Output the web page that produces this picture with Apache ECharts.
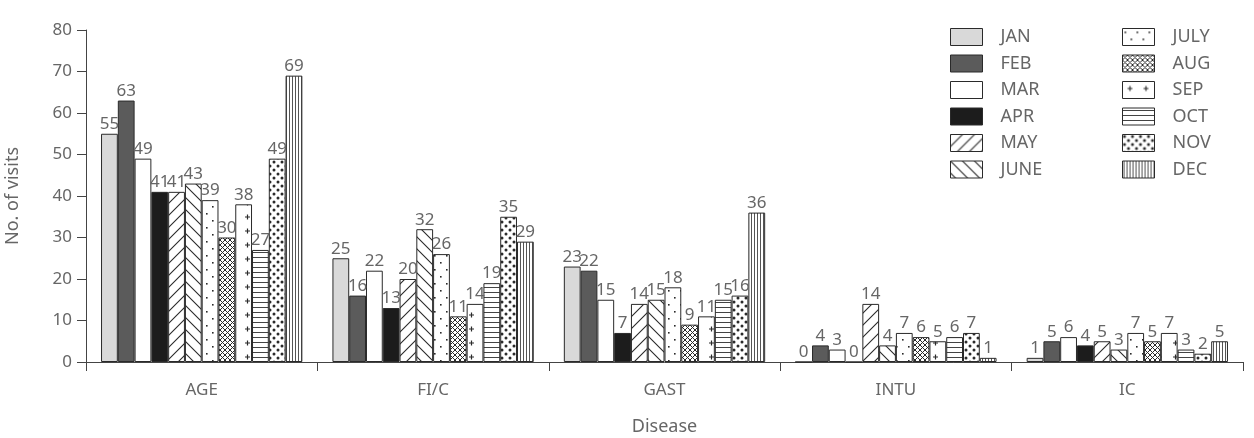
<!DOCTYPE html>
<html>
<head>
<meta charset="utf-8">
<script src="https://cdn.jsdelivr.net/npm/echarts@6/dist/echarts.min.js"></script>
<style>
  html, body { margin: 0; padding: 0; background: #fff; }
  #chart { width: 1254px; height: 438px; }
</style>
</head>
<body>
<div id="chart"></div>
<script>
// categories
const diseases = ['AGE', 'FI/C', 'GAST', 'INTU', 'IC']
const months = ['JAN', 'FEB', 'MAR', 'APR', 'MAY', 'JUNE', 'JULY', 'AUG', 'SEP', 'OCT', 'NOV', 'DEC']

// visits per month, one value per disease
const jan = [55, 25, 23, 0, 1]
const feb = [63, 16, 22, 4, 5]
const mar = [49, 22, 15, 3, 6]
const apr = [41, 13, 7, 0, 4]
const may = [41, 20, 14, 14, 5]
const june = [43, 32, 15, 4, 3]
const july = [39, 26, 18, 7, 7]
const aug = [30, 11, 9, 6, 5]
const sep = [38, 14, 11, 5, 7]
const oct = [27, 19, 15, 6, 3]
const nov = [49, 35, 16, 7, 2]
const dec = [69, 29, 36, 1, 5]

const yTicks = [0, 10, 20, 30, 40, 50, 60, 70, 80]

const monthData = [jan, feb, mar, apr, may, june, july, aug, sep, oct, nov, dec]

const ink = '#2a2a2a'
const textColor = '#666'

// small canvas fill patterns
const makePattern = (w, h, draw) => {
  const c = document.createElement('canvas')
  c.width = w
  c.height = h
  const ctx = c.getContext('2d')
  ctx.fillStyle = '#fff'
  ctx.fillRect(0, 0, w, h)
  ctx.strokeStyle = ink
  ctx.fillStyle = ink
  draw(ctx)
  return { image: c, repeat: 'repeat' }
}

const fills = [
  '#d9d9d9',
  '#5b5b5b',
  '#ffffff',
  '#1c1c1c',
  makePattern(12, 12, ctx => { // MAY  /
    ctx.lineWidth = 1.1
    ctx.beginPath()
    ctx.moveTo(-1, 13); ctx.lineTo(13, -1)
    ctx.moveTo(-7, 7); ctx.lineTo(7, -7)
    ctx.moveTo(5, 19); ctx.lineTo(19, 5)
    ctx.stroke()
  }),
  makePattern(12, 12, ctx => { // JUNE  \
    ctx.lineWidth = 1.1
    ctx.beginPath()
    ctx.moveTo(-1, -1); ctx.lineTo(13, 13)
    ctx.moveTo(-7, 5); ctx.lineTo(7, 19)
    ctx.moveTo(5, -7); ctx.lineTo(19, 7)
    ctx.stroke()
  }),
  makePattern(12, 14, ctx => { // JULY sparse dots
    ctx.fillRect(2, 3, 1.6, 1.6)
    ctx.fillRect(8, 10, 1.6, 1.6)
  }),
  makePattern(5, 5, ctx => { // AUG crosshatch
    ctx.lineWidth = 1
    ctx.beginPath()
    ctx.moveTo(0, 0); ctx.lineTo(5, 5)
    ctx.moveTo(5, 0); ctx.lineTo(0, 5)
    ctx.stroke()
  }),
  makePattern(16, 14, ctx => { // SEP plus marks
    ctx.lineWidth = 1.2
    ctx.beginPath()
    ctx.moveTo(5, 7); ctx.lineTo(10, 7)
    ctx.moveTo(7.5, 4.5); ctx.lineTo(7.5, 9.5)
    ctx.stroke()
  }),
  makePattern(6, 5, ctx => { // OCT horizontal lines
    ctx.fillStyle = '#444'
    ctx.fillRect(0, 2, 6, 1)
  }),
  makePattern(8, 8, ctx => { // NOV big dots
    ctx.beginPath()
    ctx.arc(2, 2, 1.5, 0, Math.PI * 2)
    ctx.arc(6, 6, 1.5, 0, Math.PI * 2)
    ctx.fill()
  }),
  makePattern(3, 4, ctx => { // DEC vertical lines
    ctx.fillStyle = '#555'
    ctx.fillRect(1, 0, 1, 4)
  })
]

const series = months.map((m, i) => ({
  name: m,
  type: 'bar',
  barGap: '0%',
  barCategoryGap: '13%',
  data: monthData[i],
  itemStyle: {
    color: fills[i],
    borderColor: ink,
    borderWidth: 1
  },
  label: {
    show: true,
    position: 'top',
    distance: 1,
    color: textColor,
    fontSize: 17,
    fontFamily: 'Noto Sans'
  }
}))

const legendBase = {
  orient: 'vertical',
  padding: 0,
  itemWidth: 32,
  itemHeight: 17,
  itemGap: 8.5,
  icon: 'rect',
  textStyle: { color: textColor, fontSize: 18, fontFamily: 'Noto Sans', padding: [0, 0, 0, 13] },
  itemStyle: { borderColor: ink, borderWidth: 1 }
}

const chart = echarts.init(document.getElementById('chart'))
chart.setOption({
  animation: false,
  textStyle: { fontFamily: 'Noto Sans' },
  grid: { left: 86, right: 11, top: 30, bottom: 76, containLabel: false, outerBoundsMode: 'none' },
  legend: [
    Object.assign({}, legendBase, { left: 950, top: 28, data: months.slice(0, 6) }),
    Object.assign({}, legendBase, { left: 1122, top: 28, data: months.slice(6) })
  ],
  xAxis: {
    type: 'category',
    data: diseases,
    name: 'Disease',
    nameLocation: 'middle',
    nameGap: 56,
    nameTextStyle: { color: textColor, fontSize: 18 },
    axisLine: { lineStyle: { color: '#444', width: 1 } },
    axisTick: { show: true, length: 9, lineStyle: { color: '#444' } },
    axisLabel: { color: textColor, fontSize: 17, margin: 20 }
  },
  yAxis: {
    type: 'value',
    min: yTicks[0],
    max: yTicks[yTicks.length - 1],
    interval: 10,
    name: 'No. of visits',
    nameLocation: 'middle',
    nameGap: 64,
    nameTextStyle: { color: textColor, fontSize: 18 },
    axisLine: { show: true, lineStyle: { color: '#444', width: 1 } },
    axisTick: { show: true, length: 9, lineStyle: { color: '#444' } },
    axisLabel: { color: textColor, fontSize: 17, margin: 14 },
    splitLine: { show: false }
  },
  series: series
})
</script>
</body>
</html>
